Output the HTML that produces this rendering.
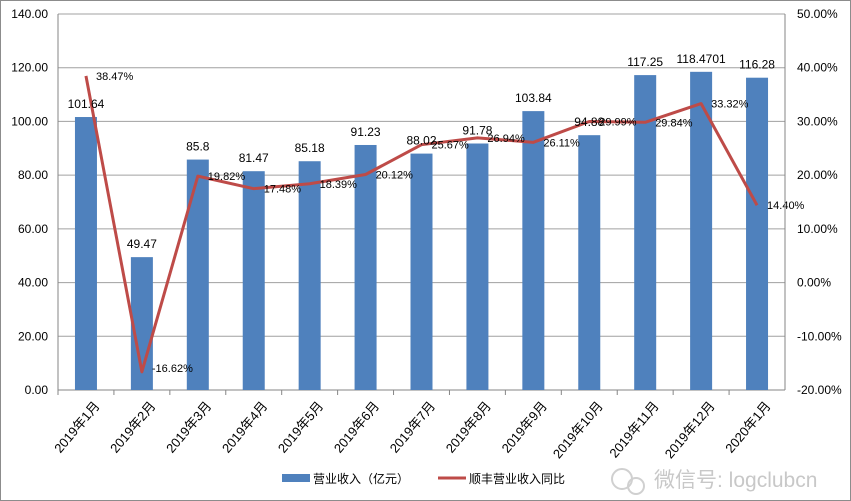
<!DOCTYPE html>
<html><head><meta charset="utf-8"><style>
body{margin:0;background:#fff}
svg{display:block;font-family:"Liberation Sans","Noto Sans CJK SC",sans-serif}
</style></head><body>
<svg id="c" width="851" height="501" viewBox="0 0 851 501">
<rect x="0.5" y="0.5" width="850" height="500" fill="#fff" stroke="#8c8c8c"/>
<g id="grid"></g><g id="bars"></g><g id="line"></g><g id="labels"></g><g id="axes"></g>
<g>
<rect x="282" y="474" width="28" height="8" fill="#4F81BD"/>
<text x="313" y="483" font-size="12" fill="#000">营业收入（亿元）</text>
<line x1="438" y1="478" x2="466" y2="478" stroke="#BE4B48" stroke-width="3"/>
<text x="469" y="483" font-size="12" fill="#000">顺丰营业收入同比</text>
</g>
<g>
<circle cx="622" cy="479" r="10" fill="none" stroke="#d0d0d0" stroke-width="2"/>
<circle cx="636" cy="486" r="8" fill="none" stroke="#d0d0d0" stroke-width="2"/>
<text x="654" y="487" font-size="21" fill="#c8c8c8">微信号: logclubcn</text>
</g>
</svg>
<script>
const categories=["2019年1月","2019年2月","2019年3月","2019年4月","2019年5月","2019年6月","2019年7月","2019年8月","2019年9月","2019年10月","2019年11月","2019年12月","2020年1月"];
const revenue=[101.64,49.47,85.8,81.47,85.18,91.23,88.02,91.78,103.84,94.88,117.25,118.4701,116.28];
const revenueLabels=["101.64","49.47","85.8","81.47","85.18","91.23","88.02","91.78","103.84","94.88","117.25","118.4701","116.28"];
const growth=[38.47,-16.62,19.82,17.48,18.39,20.12,25.67,26.94,26.11,29.99,29.84,33.32,14.40];
const leftTicks=[0,20,40,60,80,100,120,140];
const rightTicks=[-20,-10,0,10,20,30,40,50];
const L=58,R=785,T=14,B=390,NS="http://www.w3.org/2000/svg";
const step=(R-L)/categories.length;
const xc=i=>L+step*(i+0.5);
const yL=v=>B-(v/140)*(B-T);
const yR=v=>B-((v+20)/70)*(B-T);
function mk(t,a,p){const e=document.createElementNS(NS,t);for(const k in a)e.setAttribute(k,a[k]);document.getElementById(p).appendChild(e);return e;}
leftTicks.forEach(v=>{
 const g=mk('line',{x1:L,x2:R,y1:yL(v),y2:yL(v),stroke:v===0?'#868686':'#a0a0a0','stroke-width':1},'grid');
 
 
 const t=mk('text',{x:L-10,y:yL(v)+4,'font-size':12,'text-anchor':'end'},'axes');t.textContent=v.toFixed(2);
 
 
});
rightTicks.forEach(v=>{
 const t=mk('text',{x:R+12,y:yR(v)+4,'font-size':12},'axes');t.textContent=v.toFixed(2)+'%';
 
 
});
let a=mk('line',{x1:L,x2:L,y1:T,y2:B,stroke:'#868686'},'axes');


a=mk('line',{x1:R,x2:R,y1:T,y2:B,stroke:'#868686'},'axes');


categories.forEach((c,i)=>{
 const tk=mk('line',{x1:L+step*i,x2:L+step*i,y1:B,y2:B+5,stroke:'#868686'},'axes');
 
 
 const b=mk('rect',{x:xc(i)-11,y:yL(revenue[i]),width:22,height:B-yL(revenue[i]),fill:'#4F81BD'},'bars');
 
 
 const vl=mk('text',{x:xc(i),y:yL(revenue[i])-9,'font-size':12,'text-anchor':'middle'},'labels');vl.textContent=revenueLabels[i];
 
 
 const gl=mk('text',{x:xc(i)+10,y:yR(growth[i])+(i===1?0:4),'font-size':11},'labels');gl.textContent=growth[i].toFixed(2)+'%';
 
 
 const lx=xc(i)+7,ly=B+10;
 const xl=mk('text',{x:lx,y:ly,'font-size':13,'text-anchor':'end','dominant-baseline':'hanging',transform:`rotate(-50 ${lx} ${ly})`},'axes');xl.textContent=c;
 
 
});
const pl=mk('polyline',{points:growth.map((g,i)=>xc(i)+','+yR(g)).join(' '),fill:'none',stroke:'#BE4B48','stroke-width':3,'stroke-linejoin':'round'},'line');


</script>
</body></html>
